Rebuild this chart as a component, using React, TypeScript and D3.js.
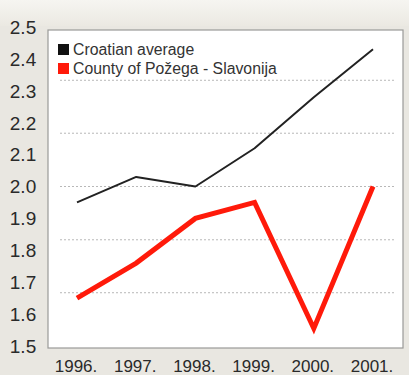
import React from "react";
import * as d3 from "d3";

const years = ["1996.", "1997.", "1998.", "1999.", "2000.", "2001."];
const croatianAverage = [1.95, 2.03, 2.0, 2.12, 2.28, 2.43];
const pozegaSlavonija = [1.65, 1.76, 1.9, 1.95, 1.555, 2.0];
const yTicks = [1.5, 1.6, 1.7, 1.8, 1.9, 2.0, 2.1, 2.2, 2.3, 2.4, 2.5];
const gridValues = [1.667, 1.833, 2.0, 2.167, 2.333];
const seriesNames = ["Croatian average", "County of Požega - Slavonija"];

const W = 409;
const H = 375;

export default function App() {
  const x = d3.scalePoint<string>().domain(years).range([77, 373]);
  const y = d3.scaleLinear().domain([1.5, 2.5]).range([346, 27]);
  const line = d3
    .line<number>()
    .x((_, i) => x(years[i]) as number)
    .y((d) => y(d));

  const frame = { left: 48, top: 30, right: 403, bottom: 348 };

  return (
    <svg
      width={W}
      height={H}
      style={{ position: "absolute", left: 0, top: 0 }}
      fontFamily="Liberation Sans, Arial, sans-serif"
    >
      <defs>
        <linearGradient id="topband" x1="0" y1="0" x2="0" y2="1">
          <stop offset="0" stopColor="#f6f5f1" />
          <stop offset="1" stopColor="#ebe9e2" />
        </linearGradient>
      </defs>
      <rect x={0} y={0} width={W} height={H} fill="#e9e7e1" />
      <rect x={0} y={0} width={W} height={26} fill="url(#topband)" />
      <rect
        x={frame.left}
        y={frame.top}
        width={frame.right - frame.left}
        height={frame.bottom - frame.top}
        fill="#ffffff"
        stroke="#9a9a98"
        strokeWidth={1.2}
      />
      {gridValues.map((g) => (
        <line
          key={g}
          x1={60}
          x2={395}
          y1={y(g)}
          y2={y(g)}
          stroke="#b8b8b8"
          strokeWidth={1}
          strokeDasharray="2,2"
        />
      ))}
      {yTicks.map((t) => (
        <text
          key={t}
          x={23}
          y={y(t)}
          dy="0.36em"
          textAnchor="middle"
          fontSize={19}
          fill="#2a2a2a"
        >
          {t.toFixed(1)}
        </text>
      ))}
      {years.map((yr) => (
        <text
          key={yr}
          x={(x(yr) as number) - 1}
          y={372}
          textAnchor="middle"
          fontSize={17}
          fill="#2a2a2a"
        >
          {yr}
        </text>
      ))}
      <path
        d={line(croatianAverage) || ""}
        fill="none"
        stroke="#222"
        strokeWidth={2}
        strokeLinejoin="round"
      />
      <path
        d={line(pozegaSlavonija) || ""}
        fill="none"
        stroke="#ff1a0a"
        strokeWidth={5}
        strokeLinejoin="miter"
      />
      <rect x={58} y={44} width={11} height={11} fill="#111" />
      <text x={73} y={55} fontSize={15.8} fill="#333">
        {seriesNames[0]}
      </text>
      <rect x={58} y={63} width={11} height={11} fill="#ff1a0a" />
      <text x={73} y={74} fontSize={15.8} fill="#333">
        {seriesNames[1]}
      </text>
    </svg>
  );
}
